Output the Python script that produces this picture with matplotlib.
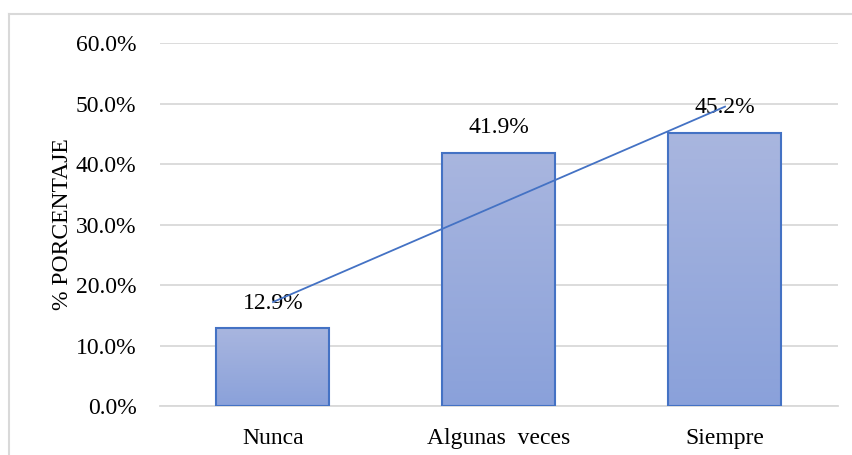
import numpy as np
import matplotlib.pyplot as plt
from matplotlib.lines import Line2D
from matplotlib.colors import LinearSegmentedColormap
from matplotlib.ticker import PercentFormatter

categories = ['Nunca', 'Algunas  veces', 'Siempre']
values = [0.129, 0.419, 0.452]
yticks = [0.0, 0.1, 0.2, 0.3, 0.4, 0.5, 0.6]

plt.rcParams['font.family'] = ['Liberation Serif', 'DejaVu Serif']
plt.rcParams['font.size'] = 17

fig = plt.figure(figsize=(8.53, 4.55), dpi=100)
ax = fig.add_axes([160 / 853, 1 - 406 / 455, 678 / 853, 363 / 455])

x = np.arange(len(categories))
bars = ax.bar(x, values, width=0.5, color='none', edgecolor='#4472C4', linewidth=1.5, zorder=3)

# gradient fill inside each bar
cmap = LinearSegmentedColormap.from_list('grad', ['#8AA1DA', '#A9B6DF'])
grad = np.linspace(0, 1, 256).reshape(-1, 1)
for b in bars:
    im = ax.imshow(grad, cmap=cmap, aspect='auto', origin='lower',
                   extent=[b.get_x(), b.get_x() + b.get_width(), 0, b.get_height()], zorder=2)
    im.set_clip_path(b)

for xi, v in zip(x, values):
    ax.text(xi, v + 0.041, f'{v * 100:.1f}%', ha='center', va='center', fontsize=17, zorder=4)

# linear trend line
k, c = np.polyfit(x, values, 1)
ax.plot(x[[0, -1]], k * x[[0, -1]] + c, color='#4472C4', linewidth=1.3, zorder=5)

ax.set_xlim(-0.5, len(categories) - 0.5)
ax.set_ylim(0, 0.6)
ax.set_yticks(yticks)
ax.yaxis.set_major_formatter(PercentFormatter(1.0, decimals=1))
ax.set_xticks(x)
ax.set_xticklabels(categories)
ax.tick_params(length=0, labelsize=17)
ax.tick_params(axis='y', pad=17)
ax.tick_params(axis='x', pad=16)
ax.grid(axis='y', color='#D9D9D9', linewidth=1.3, zorder=0)
ax.set_axisbelow(True)
for s in ['top', 'right', 'left']:
    ax.spines[s].set_visible(False)
ax.spines['bottom'].set_color('#D9D9D9')
ax.spines['bottom'].set_linewidth(1.3)
ax.set_ylabel('% PORCENTAJE', fontsize=17, labelpad=2)

# chart area border
fig.add_artist(Line2D([8.5 / 853, 8.5 / 853], [0, 1 - 14 / 455], transform=fig.transFigure, color='#D9D9D9', linewidth=1.5))
fig.add_artist(Line2D([8.5 / 853, 1], [1 - 14 / 455, 1 - 14 / 455], transform=fig.transFigure, color='#D9D9D9', linewidth=1.5))

fig.savefig('out.png', dpi=100)
